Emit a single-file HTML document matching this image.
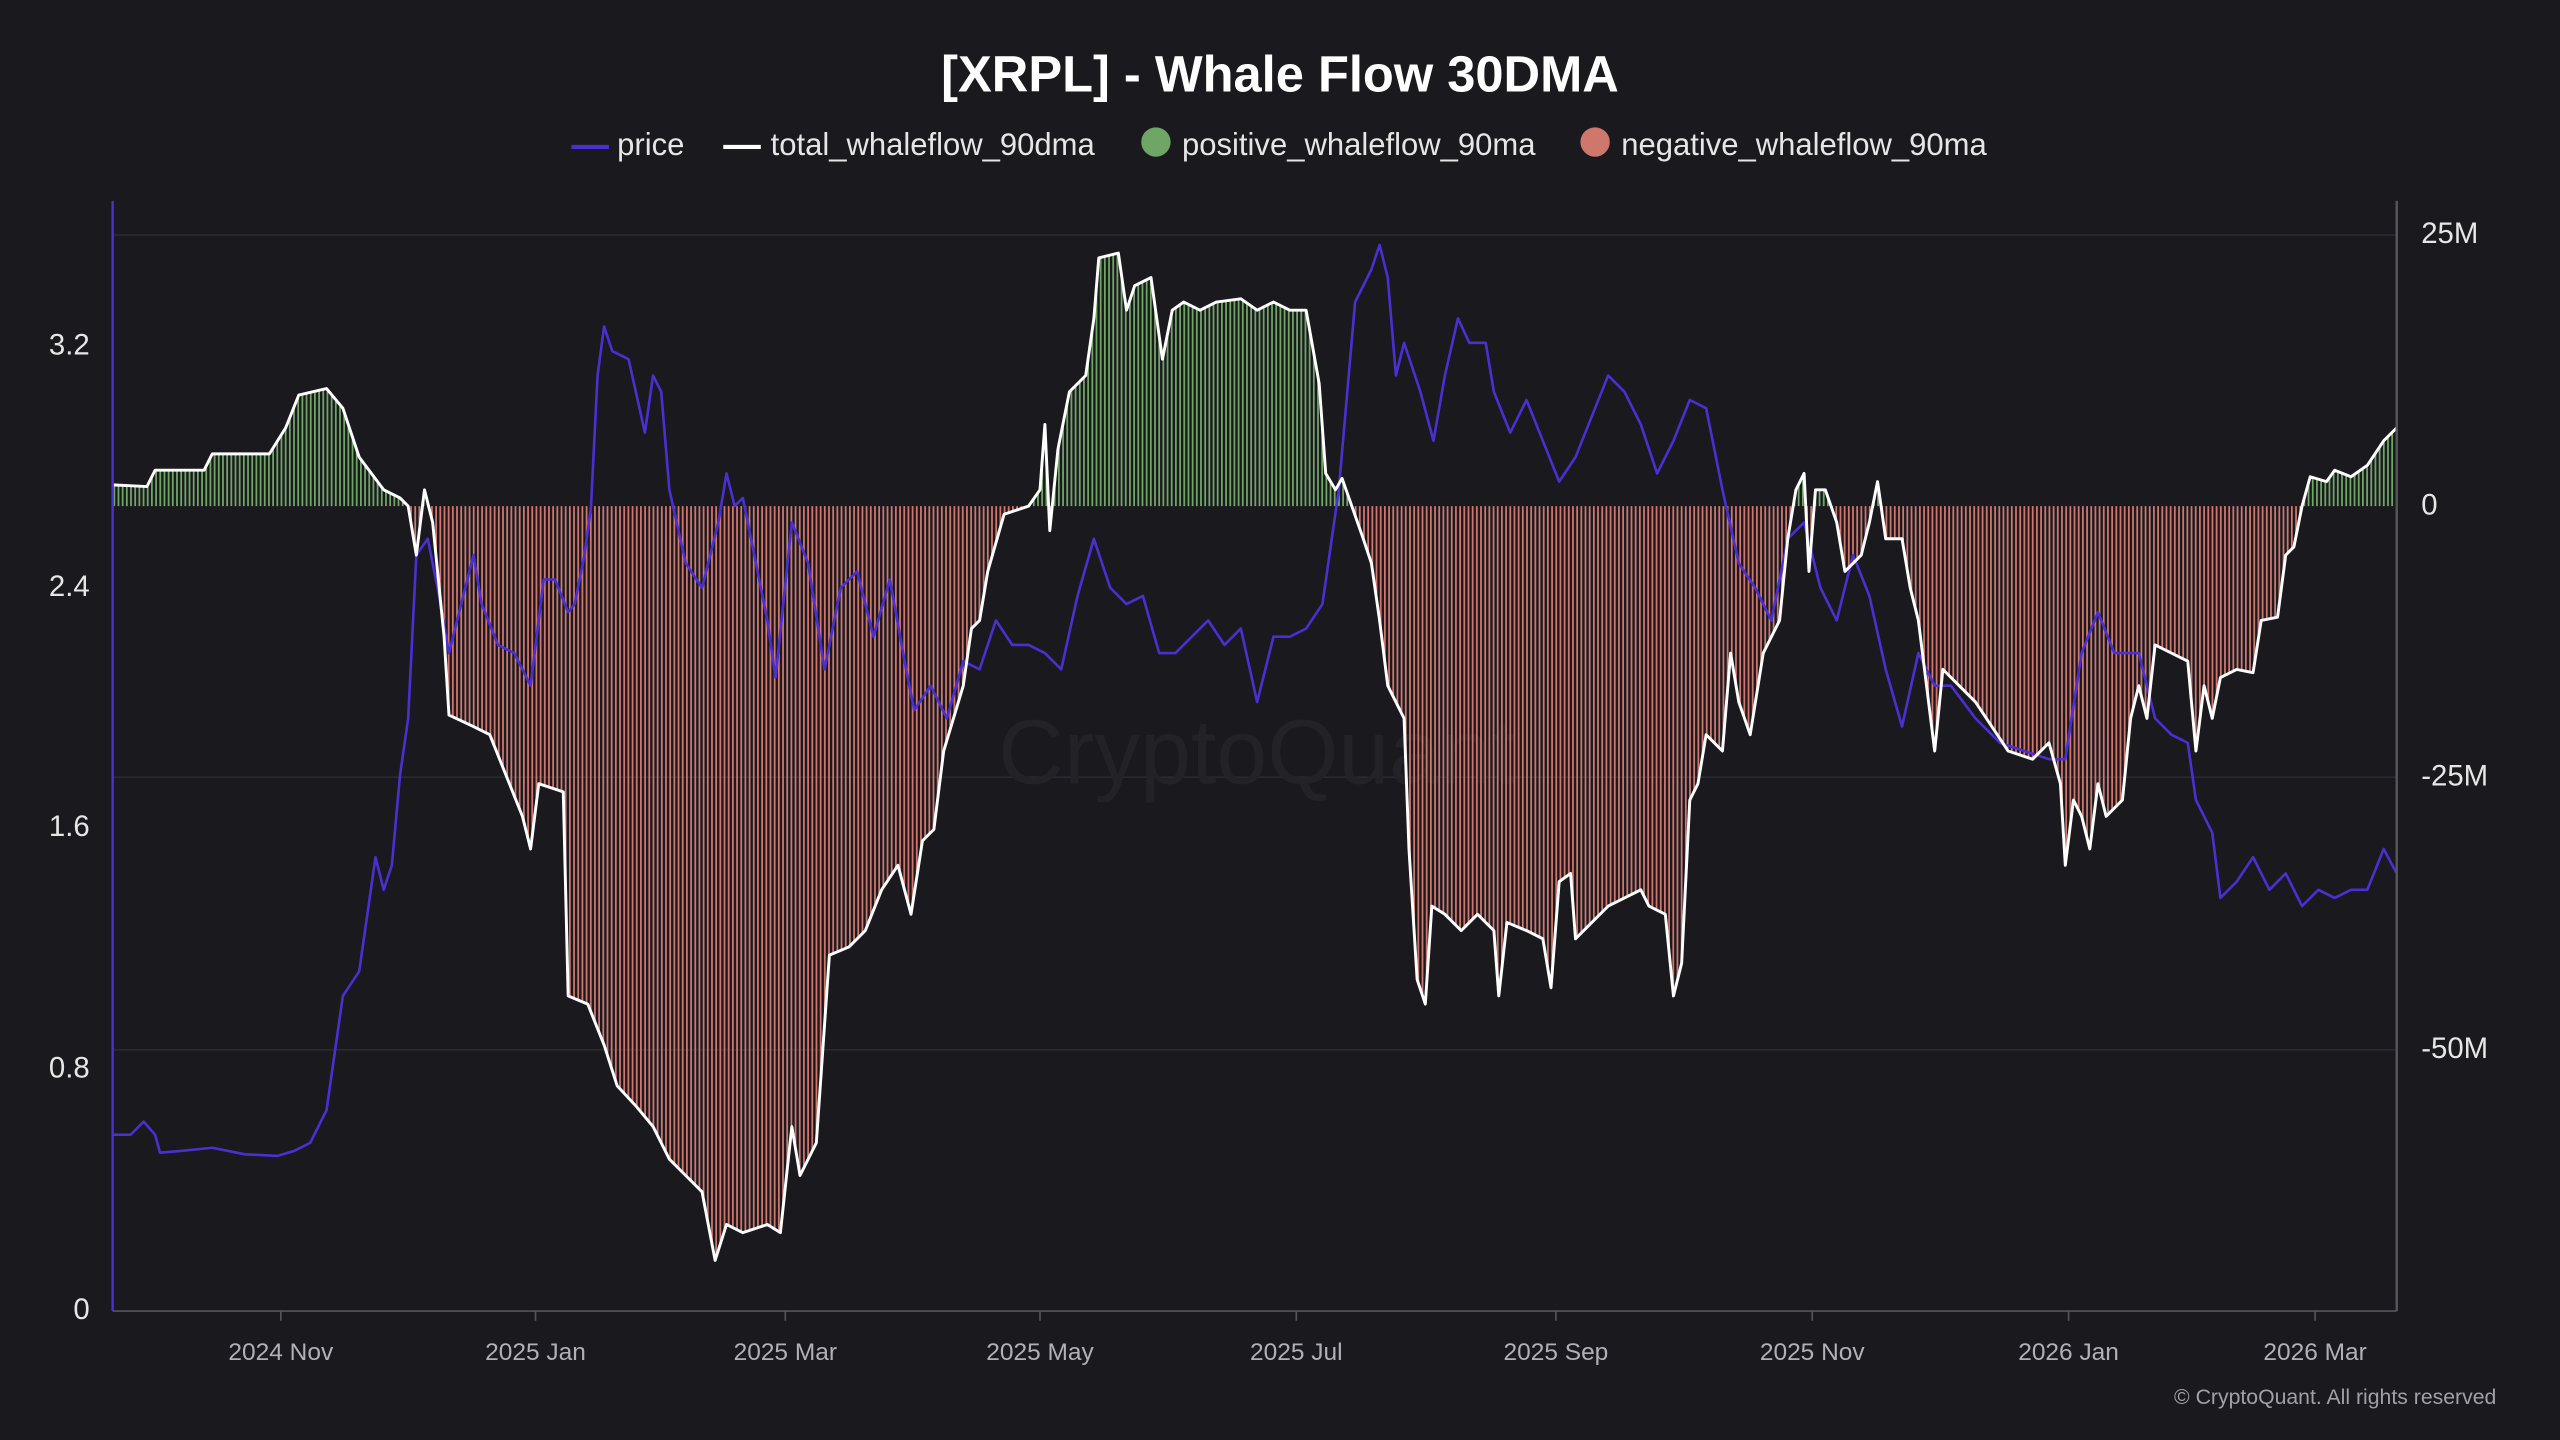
<!DOCTYPE html>
<html><head><meta charset="utf-8"><style>
html,body{margin:0;padding:0;background:#19191e;}
svg{display:block}
text{font-family:"Liberation Sans",sans-serif;}
</style></head><body>
<svg id="s" width="2560" height="1440" viewBox="0 0 1568 882" xmlns="http://www.w3.org/2000/svg">
<rect width="1568" height="882" fill="#19191e"/>
<text x="784" y="56" fill="#ffffff" font-size="31" font-weight="bold" text-anchor="middle">[XRPL] - Whale Flow 30DMA</text>
<g font-size="19" fill="#e6e6e6">
<line x1="350" y1="90" x2="373" y2="90" stroke="#4a30d0" stroke-width="2.5"/>
<text x="378" y="95">price</text>
<line x1="443" y1="90" x2="466" y2="90" stroke="#ffffff" stroke-width="2.5"/>
<text x="472" y="95">total_whaleflow_90dma</text>
<circle cx="708" cy="87" r="9" fill="#6fa565"/>
<text x="724" y="95">positive_whaleflow_90ma</text>
<circle cx="977" cy="87" r="9" fill="#cf766d"/>
<text x="993" y="95">negative_whaleflow_90ma</text>
</g>
<g stroke="#2a2a30" stroke-width="1">
<line x1="69" y1="144" x2="1468" y2="144"/>
<line x1="69" y1="476" x2="1468" y2="476"/>
<line x1="69" y1="643" x2="1468" y2="643"/>
</g>
<text x="770" y="480" fill="#222227" font-size="56" text-anchor="middle">CryptoQuant</text>
<g id="bars"></g>
<polyline id="price" fill="none" stroke="#4a30d0" stroke-width="1.6" stroke-linejoin="round"/>
<polyline id="whale" fill="none" stroke="#ffffff" stroke-width="1.8" stroke-linejoin="round"/>
<line x1="69" y1="123" x2="69" y2="803" stroke="#4a30d0" stroke-width="1.5"/>
<line x1="1468" y1="123" x2="1468" y2="803" stroke="#55555c" stroke-width="1.5"/>
<line x1="69" y1="803" x2="1468" y2="803" stroke="#55555c" stroke-width="1"/>
<g font-size="18" fill="#e6e6e6" text-anchor="end">
<text x="55" y="217">3.2</text>
<text x="55" y="365">2.4</text>
<text x="55" y="512">1.6</text>
<text x="55" y="660">0.8</text>
<text x="55" y="808">0</text>
</g>
<g font-size="18" fill="#e6e6e6">
<text x="1483" y="149">25M</text>
<text x="1483" y="315">0</text>
<text x="1483" y="481">-25M</text>
<text x="1483" y="648">-50M</text>
</g>
<g font-size="15" fill="#b0b0b6" text-anchor="middle">
<text x="172" y="833">2024 Nov</text><text x="328" y="833">2025 Jan</text>
<text x="481" y="833">2025 Mar</text><text x="637" y="833">2025 May</text>
<text x="794" y="833">2025 Jul</text><text x="953" y="833">2025 Sep</text>
<text x="1110" y="833">2025 Nov</text><text x="1267" y="833">2026 Jan</text>
<text x="1418" y="833">2026 Mar</text>
</g>
<g stroke="#55555c"><line x1="172" y1="803" x2="172" y2="809"/><line x1="328" y1="803" x2="328" y2="809"/><line x1="481" y1="803" x2="481" y2="809"/><line x1="637" y1="803" x2="637" y2="809"/><line x1="794" y1="803" x2="794" y2="809"/><line x1="953" y1="803" x2="953" y2="809"/><line x1="1110" y1="803" x2="1110" y2="809"/><line x1="1267" y1="803" x2="1267" y2="809"/><line x1="1418" y1="803" x2="1418" y2="809"/></g>
<text x="1529" y="860" fill="#a0a0a6" font-size="13" text-anchor="end">© CryptoQuant. All rights reserved</text>
</svg>
<script>
var W=[69,297,90,298,95,288,125,288,130,278,165,278,175,262,183,242,200,238,210,250,220,280,235,300,245,305,250,310,255,340,260,300,265,320,272,390,275,438,290,445,300,450,310,475,320,500,325,520,330,480,345,485,348,610,360,615,370,640,378,665,390,678,400,690,410,710,420,720,430,730,438,772,445,750,455,755,470,750,478,755,485,690,490,720,500,700,508,585,520,580,530,570,540,545,550,530,558,560,565,515,572,508,578,460,590,420,595,385,600,380,605,350,615,315,630,310,637,300,640,260,643,325,648,275,655,240,665,230,670,195,673,158,685,155,690,190,695,175,705,170,712,220,718,190,725,185,735,190,745,185,760,183,770,190,780,185,790,190,800,190,808,235,812,290,818,300,822,293,828,310,835,330,840,345,845,380,850,420,860,440,863,520,868,600,873,615,877,555,885,560,895,570,905,560,915,570,918,610,923,565,935,570,945,575,950,605,955,540,962,535,965,575,975,565,985,555,995,550,1005,545,1010,555,1020,560,1025,610,1030,590,1035,490,1040,480,1045,450,1055,460,1060,400,1065,430,1072,450,1080,400,1090,380,1095,330,1100,300,1105,290,1108,350,1112,300,1118,300,1125,320,1130,350,1140,340,1145,320,1150,295,1155,330,1160,330,1165,330,1170,360,1175,380,1180,420,1185,460,1190,410,1200,420,1210,430,1220,445,1230,460,1245,465,1255,455,1262,480,1265,530,1270,490,1275,500,1280,520,1285,480,1290,500,1300,490,1305,440,1310,420,1315,440,1320,395,1330,400,1340,405,1345,460,1350,420,1355,440,1360,415,1370,410,1380,412,1385,380,1395,378,1400,340,1405,335,1410,310,1415,292,1425,295,1430,288,1440,292,1450,285,1460,270,1468,262];
var P=[69,695,80,695,88,687,95,695,98,706,110,705,130,703,150,707,170,708,180,705,190,700,200,680,210,610,220,595,225,560,230,525,235,545,240,530,245,475,250,440,255,340,262,330,268,360,275,400,285,360,290,340,295,370,305,395,315,400,325,420,333,355,340,355,348,375,352,370,358,340,362,310,366,230,370,200,375,215,385,220,395,265,400,230,405,240,410,300,420,345,430,360,440,320,445,290,450,310,455,305,460,330,470,380,475,415,485,320,495,345,505,410,515,360,525,350,535,390,545,355,555,410,560,435,570,420,580,440,590,405,600,410,610,380,620,395,630,395,640,400,650,410,660,365,670,330,680,360,690,370,700,365,710,400,720,400,730,390,740,380,750,395,760,385,770,430,780,390,790,390,800,385,810,370,820,300,830,185,840,165,845,150,850,170,855,230,860,210,870,240,878,270,885,230,893,195,900,210,910,210,915,240,925,265,935,245,945,270,955,295,965,280,975,255,985,230,995,240,1005,260,1015,290,1025,270,1035,245,1045,250,1055,300,1065,345,1075,360,1085,380,1095,330,1105,320,1115,360,1125,380,1135,340,1145,365,1155,410,1165,445,1175,400,1185,420,1195,420,1210,440,1225,455,1240,460,1255,465,1265,465,1275,400,1285,375,1295,400,1310,400,1320,440,1330,450,1340,455,1345,490,1355,510,1360,550,1370,540,1380,525,1390,545,1400,535,1410,555,1420,545,1430,550,1440,545,1450,545,1460,520,1468,535];
function pts(a){var s=[];for(var i=0;i<a.length;i+=2)s.push(a[i]+','+a[i+1]);return s.join(' ');}
function interp(a,x){for(var i=0;i<a.length-2;i+=2){if(x>=a[i]&&x<=a[i+2]){var t=(x-a[i])/(a[i+2]-a[i]||1);return a[i+1]+t*(a[i+3]-a[i+1]);}}return a[a.length-1];}
document.getElementById('price').setAttribute('points',pts(P));
document.getElementById('whale').setAttribute('points',pts(W));
var g='',base=310;
for(var x=70;x<=1467;x+=2.56){var y=interp(W,x);var c=y<base?'#6fa565':'#cf766d';g+='<line x1="'+x.toFixed(2)+'" y1="'+base+'" x2="'+x.toFixed(2)+'" y2="'+y.toFixed(1)+'" stroke="'+c+'" stroke-width="1.1"/>';}
document.getElementById('bars').innerHTML=g;
</script>
</body></html>
